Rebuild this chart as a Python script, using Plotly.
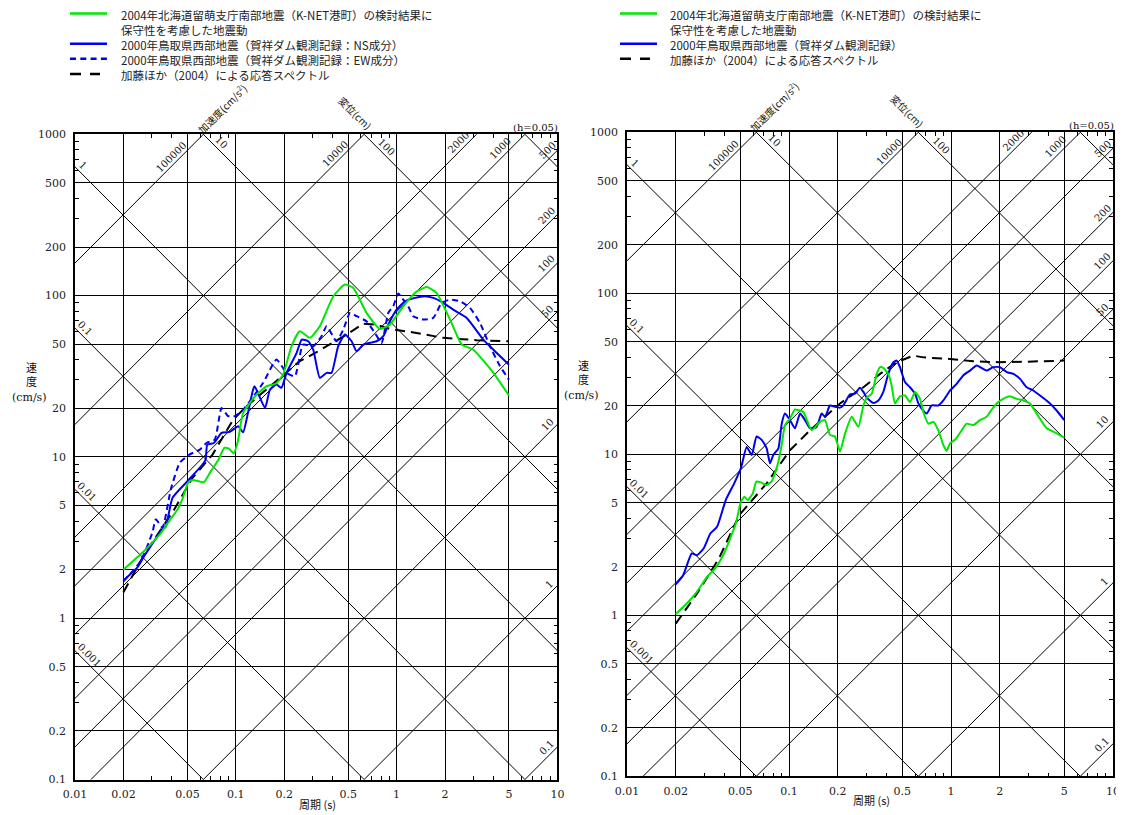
import math
import plotly.graph_objects as go

# The page body has an 8px default margin: work in screen pixels and subtract it.
OFF = 8
W, H = 1124 - OFF, 815 - OFF
NUM_FONT = "DejaVu Serif, Noto Sans CJK JP, serif"
JP_FONT = "Noto Sans CJK JP, DejaVu Serif, sans-serif"
GREEN = "#00e600"
BLUE = "#0000f0"

# ---------------- data ----------------
ACC_LINES = [0.1, 1, 10, 50, 100, 200, 500, 1000, 2000, 10000, 100000]   # cm/s^2
DISP_LINES = [0.001, 0.01, 0.1, 1, 10, 100, 1000]                         # cm

X_TICKS = [0.01, 0.02, 0.05, 0.1, 0.2, 0.5, 1, 2, 5, 10]
X_TICK_TEXT = ["0.01", "0.02", "0.05", "0.1", "0.2", "0.5", "1", "2", "5", "10"]
Y_TICKS = [0.1, 0.2, 0.5, 1, 2, 5, 10, 20, 50, 100, 200, 500, 1000]
Y_TICK_TEXT = ["0.1", "0.2", "0.5", "1", "2", "5", "10", "20", "50", "100", "200", "500", "1000"]

# left panel
L_GREEN_T = [0.020, 0.027, 0.0342, 0.0385, 0.0434, 0.0466, 0.0505, 0.0537, 0.059, 0.0634, 0.0697, 0.078,
             0.085, 0.091, 0.097, 0.103, 0.111, 0.1345, 0.155, 0.178, 0.197, 0.222, 0.25, 0.289, 0.333,
             0.404, 0.477, 0.537, 0.65, 0.787, 0.909, 1.10, 1.33, 1.54, 1.77, 2.15, 2.54, 3.0, 4.0, 5.0]
L_GREEN_V = [2.0, 2.62, 3.37, 4.0, 4.72, 5.5, 6.9, 7.2, 7.06, 6.96, 8.1, 9.6,
             11.4, 11.2, 10.5, 12.5, 18.7, 24.3, 27.4, 28.5, 32.4, 48.5, 60.1, 54.7, 64.6,
             99, 117, 112, 78.2, 62.1, 66.1, 85.9, 106, 113, 104, 71, 49.7, 46.2, 33.2, 24.0]

L_NS_T = [0.020, 0.0245, 0.027, 0.0297, 0.0326, 0.035, 0.0367, 0.0404, 0.050, 0.0619, 0.0649, 0.0665,
          0.0731, 0.0815, 0.0918, 0.1035, 0.111, 0.119, 0.128, 0.131, 0.152, 0.163, 0.179, 0.192,
          0.207, 0.239, 0.257, 0.282, 0.303, 0.333, 0.367, 0.394, 0.433, 0.477, 0.525, 0.564, 0.621,
          0.751, 0.827, 0.888, 1.0, 1.127, 1.30, 1.50, 1.69, 1.95, 2.25, 2.73, 3.46, 4.0, 5.0]
L_NS_V = [1.71, 2.07, 2.44, 2.81, 3.24, 3.59, 3.70, 5.57, 7.06, 8.94, 9.6, 11.9,
          12.2, 14.1, 14.3, 15.5, 14.2, 18.7, 26.1, 27.4, 20.1, 26.1, 28.1, 26.8,
          33.2, 44.2, 53.4, 52.1, 46.2, 30.9, 33.2, 33.2, 48.5, 57.3, 52.1, 45.2, 49.7,
          52.1, 56.0, 66.1, 81.8, 92.2, 96.8, 99.1, 96.8, 90.2, 81.8, 72.7, 53.4, 46.2, 37.3]

L_EW_T = [0.020, 0.0257, 0.0303, 0.0318, 0.035, 0.0394, 0.0448, 0.0512, 0.0597, 0.0657, 0.074, 0.0815,
          0.0896, 0.0986, 0.111, 0.148, 0.179, 0.207, 0.233, 0.262, 0.303, 0.341, 0.367, 0.423,
          0.466, 0.513, 0.564, 0.65, 0.733, 0.807, 0.888, 0.953, 1.024, 1.10, 1.18, 1.27, 1.47,
          1.69, 1.91, 2.15, 2.48, 2.86, 3.30, 3.81, 4.40, 5.0]
L_EW_V = [1.69, 2.27, 3.40, 4.10, 3.65, 6.28, 9.18, 10.3, 11.1, 12.2, 12.8, 20.1,
          17.9, 17.9, 19.6, 28.8, 40.1, 33.2, 31.6, 49.7, 48.5, 56.0, 64.6, 52.1,
          61.5, 78.2, 74.5, 69.3, 58.7, 50.9, 78.2, 85.9, 103, 94.4, 85.9, 74.5, 71.0,
          72.7, 90.2, 94.4, 92.2, 83.9, 67.7, 48.5, 36.5, 30.1]

L_KATO_T = [0.020, 0.027, 0.0414, 0.0537, 0.0715, 0.0962, 0.1165, 0.25, 0.318, 0.404, 0.489, 0.621,
            0.751, 0.909, 1.33, 1.95, 3.15, 5.0]
L_KATO_V = [1.45, 2.49, 4.72, 7.4, 10.3, 17.0, 20.6, 39.2, 44.6, 51.4, 57.3, 67.0,
            66.1, 62.1, 58.7, 54.7, 52.9, 52.1]

# right panel
R_GREEN_T = [0.020, 0.0233, 0.027, 0.0312, 0.0352, 0.0397, 0.0437, 0.047, 0.0505, 0.053, 0.0556, 0.0598,
             0.0628, 0.0675, 0.0725, 0.078, 0.0818, 0.086, 0.0902, 0.0945, 0.1014, 0.1089, 0.1142,
             0.1226, 0.138, 0.155, 0.1667, 0.179, 0.192, 0.2065, 0.222, 0.244, 0.268, 0.288, 0.302,
             0.324, 0.348, 0.365, 0.382, 0.41, 0.43, 0.451, 0.484, 0.52, 0.558, 0.60, 0.644, 0.675,
             0.725, 0.778, 0.835, 0.897, 0.94, 0.986, 1.059, 1.164, 1.25, 1.374, 1.51, 1.66, 1.74,
             1.91, 2.10, 2.31, 2.54, 2.80, 3.07, 3.38, 3.90, 4.49, 5.0]
R_GREEN_V = [1.02, 1.18, 1.40, 1.73, 1.97, 2.42, 3.07, 3.72, 5.08, 5.45, 5.2, 5.72,
             6.76, 6.67, 6.44, 6.76, 7.62, 9.0, 11.5, 15.2, 16.7, 19.0, 18.8,
             18.3, 14.1, 15.9, 16.3, 13.2, 12.9, 10.4, 13.5, 17.1, 14.8, 20.1, 22.5,
             23.8, 31.6, 34.8, 34.4, 31.6, 26.8, 20.7, 22.9, 23.2, 21.1, 24.4, 22.1, 18.3,
             15.5, 15.9, 14.1, 11.4, 10.5, 11.7, 12.3, 14.1, 15.5, 15.2, 16.3, 17.1, 18.3,
             20.7, 22.1, 22.9, 22.1, 21.6, 20.7, 17.9, 14.5, 13.5, 12.7]

R_BLUE_T = [0.020, 0.0222, 0.0251, 0.027, 0.0297, 0.0327, 0.036, 0.0407, 0.0459, 0.0505, 0.0548, 0.0589,
            0.0631, 0.0678, 0.0728, 0.0763, 0.080, 0.086, 0.0902, 0.0945, 0.1014, 0.1089, 0.117,
            0.1256, 0.135, 0.148, 0.159, 0.167, 0.179, 0.192, 0.2065, 0.216, 0.238, 0.255, 0.274,
            0.288, 0.302, 0.332, 0.356, 0.382, 0.41, 0.441, 0.462, 0.484, 0.52, 0.558, 0.60, 0.629,
            0.659, 0.708, 0.76, 0.836, 0.897, 0.986, 1.084, 1.19, 1.31, 1.44, 1.58, 1.66, 1.82,
            2.0, 2.21, 2.43, 2.67, 2.93, 3.22, 3.54, 3.99, 4.49, 5.0]
R_BLUE_V = [1.56, 1.77, 2.42, 2.36, 2.60, 3.22, 3.55, 5.2, 6.6, 8.2, 11.1, 9.9,
            12.9, 12.3, 10.9, 8.8, 9.9, 10.9, 15.5, 17.9, 16.3, 14.5, 17.9,
            16.3, 14.5, 14.8, 17.9, 17.1, 20.1, 19.7, 19.5, 20.1, 23.6, 23.8, 25.9,
            24.4, 22.5, 20.8, 21.6, 24.4, 31.6, 37.3, 38.2, 34.8, 28.1, 26.1, 23.8, 20.7,
            19.2, 17.9, 20.1, 20.1, 21.6, 24.9, 27.4, 30.9, 33.1, 35.6, 33.9, 33.1, 34.8,
            34.8, 32.4, 31.6, 29.4, 26.1, 24.9, 23.2, 21.1, 18.7, 16.3]

R_KATO_T = [0.020, 0.0233, 0.027, 0.0369, 0.0493, 0.0728, 0.090, 0.1014, 0.135, 0.2065, 0.288, 0.365,
            0.462, 0.585, 0.675, 0.986, 1.374, 2.0, 3.22, 5.0]
R_KATO_V = [0.887, 1.10, 1.36, 2.25, 4.19, 6.6, 9.0, 10.6, 14.1, 20.7, 26.1, 31.6,
            37.3, 41.0, 40.0, 39.1, 37.8, 37.3, 37.7, 38.2]

LEGEND_L_TEXT = [
    "2004年北海道留萌支庁南部地震（K-NET港町）の検討結果に",
    "保守性を考慮した地震動",
    "2000年鳥取県西部地震（賀祥ダム観測記録：NS成分）",
    "2000年鳥取県西部地震（賀祥ダム観測記録：EW成分）",
    "加藤ほか（2004）による応答スペクトル",
]
LEGEND_R_TEXT = [
    "2004年北海道留萌支庁南部地震（K-NET港町）の検討結果に",
    "保守性を考慮した地震動",
    "2000年鳥取県西部地震（賀祥ダム観測記録）",
    "加藤ほか（2004）による応答スペクトル",
]

# ---------------- layout geometry (screen pixels) ----------------
PANELS = [
    dict(x0=75.0, x1=557.4, y0=134.3, y1=779.5, xa="x", ya="y"),
    dict(x0=627.0, x1=1113.0, y0=132.3, y1=776.3, xa="x2", ya="y2"),
]

# label placement along the guide lines: (family, value, text, period)
LINE_LABELS = [
    ("D", 1, "1", 0.0105), ("D", 0.1, "0.1", 0.0108), ("D", 0.01, "0.01", 0.0110),
    ("D", 0.001, "0.001", 0.0115), ("D", 10, "10", 0.0759), ("D", 100, "100", 0.81),
    ("A", 100000, "100000", 0.0422), ("A", 10000, "10000", 0.447), ("A", 2000, "2000", 2.6),
    ("A", 1000, "1000", 4.75), ("A", 500, "500", 9.3), ("A", 200, "200", 9.2),
    ("A", 100, "100", 9.2), ("A", 50, "50", 9.3), ("A", 10, "10", 9.3),
    ("A", 1, "1", 9.5), ("A", 0.1, "0.1", 9.2),
]


def acc_v(a, t):
    return a * t / (2 * math.pi)


def disp_v(d, t):
    return 2 * math.pi * d / t


def minor_vals(lo, hi):
    out = []
    for e in range(lo, hi):
        for m in (3, 4, 6, 7, 8, 9):
            out.append(m * 10 ** e)
    return out


def px(p):
    return (p - OFF) / W


def py(p):
    return 1 - (p - OFF) / H


fig = go.Figure()
annotations = []
shapes = []

for i, P in enumerate(PANELS):
    xa, ya = P["xa"], P["ya"]
    # guide lines
    gx, gy = [], []
    for a in ACC_LINES:
        gx += [1e-3, 1e2, None]
        gy += [acc_v(a, 1e-3), acc_v(a, 1e2), None]
    for d in DISP_LINES:
        gx += [1e-3, 1e2, None]
        gy += [disp_v(d, 1e-3), disp_v(d, 1e2), None]
    fig.add_trace(go.Scatter(x=gx, y=gy, mode="lines", line=dict(color="black", width=1),
                             xaxis=xa, yaxis=ya, hoverinfo="skip", showlegend=False))

    if i == 0:
        series = [
            (L_KATO_T, L_KATO_V, "black", "10px,6px", "linear"),
            (L_EW_T, L_EW_V, BLUE, "6px,4px", "spline"),
            (L_NS_T, L_NS_V, BLUE, "solid", "spline"),
            (L_GREEN_T, L_GREEN_V, GREEN, "solid", "spline"),
        ]
    else:
        series = [
            (R_KATO_T, R_KATO_V, "black", "10px,6px", "linear"),
            (R_BLUE_T, R_BLUE_V, BLUE, "solid", "spline"),
            (R_GREEN_T, R_GREEN_V, GREEN, "solid", "spline"),
        ]
    for t, v, c, dash, shp in series:
        fig.add_trace(go.Scatter(x=t, y=v, mode="lines",
                                 line=dict(color=c, width=2, dash=dash, shape=shp, smoothing=0.5),
                                 xaxis=xa, yaxis=ya, hoverinfo="skip", showlegend=False))

    # labels on guide lines
    for fam, val, txt, t in LINE_LABELS:
        v = acc_v(val, t) if fam == "A" else disp_v(val, t)
        annotations.append(dict(
            x=math.log10(t), y=math.log10(v), xref=xa, yref=ya, text=txt, showarrow=False,
            textangle=-45 if fam == "A" else 45, font=dict(family=NUM_FONT, size=10, color="#111"),
            xshift=-5 if fam == "A" else 5, yshift=5, xanchor="center", yanchor="middle",
            borderpad=0))

    x0, x1, y0, y1 = P["x0"], P["x1"], P["y0"], P["y1"]
    cx = (x0 + x1) / 2
    # quantity labels above the frame
    annotations.append(dict(x=px(x0 + 147), y=py(y0 - 26), xref="paper", yref="paper",
                            text="加速度(cm/s<sup>2</sup>)", showarrow=False, textangle=-45,
                            xanchor="center", yanchor="middle", borderpad=0,
                            font=dict(family=JP_FONT, size=10, color="#111")))
    annotations.append(dict(x=px(x0 + 280), y=py(y0 - 22), xref="paper", yref="paper",
                            text="変位(cm)", showarrow=False, textangle=45,
                            xanchor="center", yanchor="middle", borderpad=0,
                            font=dict(family=JP_FONT, size=10, color="#111")))
    annotations.append(dict(x=px(x1 + 2), y=py(y0 - 7), xref="paper", yref="paper",
                            text="(h=0.05)", showarrow=False, xanchor="right", yanchor="middle",
                            borderpad=0, font=dict(family=NUM_FONT, size=10, color="#111")))
    # axis titles
    annotations.append(dict(x=px(cx + 1), y=py(y1 + 24), xref="paper", yref="paper",
                            text="周期 (s)", showarrow=False, xanchor="center", yanchor="middle",
                            borderpad=0, font=dict(family=JP_FONT, size=11, color="#111")))
    annotations.append(dict(x=px(x0 - 44), y=py(y0 + 240), xref="paper", yref="paper",
                            text="速<br>度", showarrow=False, xanchor="center", yanchor="middle",
                            borderpad=0, font=dict(family=JP_FONT, size=11, color="#111")))
    annotations.append(dict(x=px(x0 - 46), y=py(y0 + 263), xref="paper", yref="paper",
                            text="(cm/s)", showarrow=False, xanchor="center", yanchor="middle",
                            borderpad=0, font=dict(family=NUM_FONT, size=11, color="#111")))

    axis_common = dict(
        type="log", showgrid=True, gridcolor="black", gridwidth=1, zeroline=False,
        showline=True, linecolor="black", linewidth=1.5, mirror="ticks", automargin=False,
        ticks="inside", ticklen=4, tickcolor="black", fixedrange=True,
        tickfont=dict(family=NUM_FONT, size=11, color="#222"),
    )
    xdef = dict(axis_common, range=[-2, 1], tickmode="array", tickvals=X_TICKS, ticktext=X_TICK_TEXT,
                domain=[px(x0), px(x1)], anchor=ya, ticklabelstandoff=4,
                minor=dict(tickvals=minor_vals(-2, 1), ticks="inside", ticklen=4, tickcolor="black",
                           showgrid=False))
    ydef = dict(axis_common, range=[-1, 3], tickmode="array", tickvals=Y_TICKS, ticktext=Y_TICK_TEXT,
                domain=[py(y1), py(y0)], anchor=xa, ticklabelstandoff=5,
                minor=dict(tickvals=minor_vals(-1, 3), ticks="inside", ticklen=4, tickcolor="black",
                           showgrid=False))
    key = "" if i == 0 else "2"
    fig.update_layout(**{"xaxis" + key: xdef, "yaxis" + key: ydef})

# manual legends: one text block each, line samples aligned with its rows
LEG_FS = 11.5
LEG_STEP = 15.1


def add_legend(texts, rows, lx0, lx1, tx, text_top, sample_y0):
    annotations.append(dict(x=px(tx), y=py(text_top), xref="paper", yref="paper",
                            text="<br>".join(texts), showarrow=False, xanchor="left", yanchor="top",
                            align="left", borderpad=0,
                            font=dict(family=JP_FONT, size=LEG_FS, color="#222")))
    for row, c, dash, x_end in rows:
        yy = sample_y0 + row * LEG_STEP
        shapes.append(dict(type="line", xref="paper", yref="paper",
                           x0=px(lx0), x1=px(x_end if x_end else lx1), y0=py(yy), y1=py(yy),
                           line=dict(color=c, width=2.5, dash=dash)))


add_legend(LEGEND_L_TEXT,
           [(0, GREEN, "solid", None), (2, BLUE, "solid", None), (3, BLUE, "6px,4.3px", None),
            (4, "black", "11px,9px", 100)],
           70, 107, 120, 5.6, 13.5)
add_legend(LEGEND_R_TEXT,
           [(0, GREEN, "solid", None), (2, BLUE, "solid", None), (3, "black", "11px,9px", 650)],
           620, 657, 669, 5.6, 13.5)

fig.update_layout(
    width=W, height=H, margin=dict(l=0, r=0, t=0, b=0, autoexpand=False),
    paper_bgcolor="white", plot_bgcolor="white", showlegend=False,
    annotations=annotations, shapes=shapes,
)

fig.write_html("out.html")
